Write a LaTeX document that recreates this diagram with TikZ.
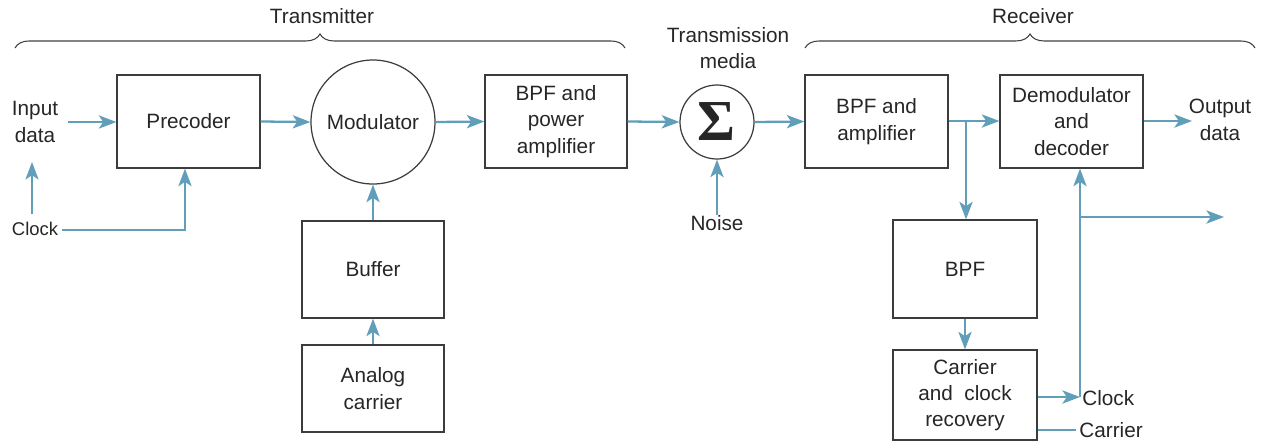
\documentclass[tikz,border=0pt]{standalone}
\usepackage{fontspec}
\setmainfont{Liberation Sans}
\newfontfamily\sigfont{Liberation Serif}
\usetikzlibrary{arrows.meta,decorations.pathreplacing}
\definecolor{lblue}{RGB}{96,158,186}
\definecolor{boxgray}{RGB}{60,60,60}
\begin{document}
\begin{tikzpicture}[x=0.02cm,y=-0.02cm,
  every node/.style={font=\fontsize{11.8}{15}\selectfont, text=black!85, align=center, inner sep=0pt},
  blk/.style={draw=boxgray, line width=0.7pt, minimum width=#1},
  arr/.style={draw=lblue, line width=1.3pt, -{Stealth[length=10pt,width=7.5pt,inset=2.5pt]}},
  tarr/.style={draw=lblue, line width=0.9pt, -{Stealth[length=10pt,width=7.5pt,inset=2.5pt]}},
  ln/.style={draw=lblue, line width=1.3pt},
  brc/.style={draw=black!75, line width=0.6pt, decorate, decoration={brace, amplitude=8pt}}]
\useasboundingbox (0,0) rectangle (1278,444);
% braces
\coordinate (tb1) at (15,48); \coordinate (tb2) at (625,48);
\coordinate (rb1) at (805,48); \coordinate (rb2) at (1255,48);
\draw[brc] (tb1) -- (tb2);
\draw[brc] (rb1) -- (rb2);
\node (ttx) at (322,16) {Transmitter};
\node (trx) at (1033,16) {Receiver};
% transmitter
\node (ind) at (35,122) {Input\\data};
\node[blk, minimum width=143*0.02cm, minimum height=93*0.02cm] (pre) at (188.5,121.5) {Precoder};
\node[font=\fontsize{10.5}{13}\selectfont] (clk) at (35,229) {Clock};
\node[draw=boxgray, line width=0.7pt, circle, minimum size=124*0.02cm] (mod) at (373,122) {Modulator};
\node[blk, minimum width=142*0.02cm, minimum height=97*0.02cm] (buf) at (373,269.5) {Buffer};
\node[blk, minimum width=142*0.02cm, minimum height=87*0.02cm] (anc) at (373,388.5) {Analog\\carrier};
\node[blk, minimum width=142*0.02cm, minimum height=93*0.02cm] (bpa) at (556,121.5) {BPF and\\power\\amplifier};
% media
\node[draw=boxgray, line width=0.7pt, circle, minimum size=74*0.02cm] (sig) at (717,122) {};
\node[font=\fontsize{33}{33}\sigfont\bfseries] (sigt) at (716,122) {Σ};
\node (tm) at (728,48) {Transmission\\media};
\node (noi) at (717,223) {Noise};
% receiver
\node[blk, minimum width=143*0.02cm, minimum height=93*0.02cm] (bam) at (876.5,121.5) {BPF and\\amplifier};
\node[blk, minimum width=143*0.02cm, minimum height=93*0.02cm] (dem) at (1071.5,121.5) {Demodulator\\and\\decoder};
\node (out) at (1220,120) {Output\\data};
\node[blk, minimum width=144*0.02cm, minimum height=98*0.02cm] (bpf) at (965,269) {BPF};
\node[blk, minimum width=144*0.02cm, minimum height=90*0.02cm] (ccr) at (965,395) {Carrier\\and~~clock\\recovery};
\node[anchor=west] (rclk) at (1082,398) {Clock};
\node[anchor=west] (rcar) at (1079,430) {Carrier};
% coordinates
\coordinate (inA) at (68,122);
\coordinate (ckU) at (32,214);
\coordinate (ckD) at (32,162);
\coordinate (ckR) at (62,230);
\coordinate (ckC) at (185,230);
\coordinate (brn) at (966,121);
\coordinate (cj) at (1080,397);
\coordinate (cb) at (1080,217);
\coordinate (ce) at (1224,217);
\coordinate (oe) at (1192,121);
\coordinate (carE) at (1076,430);
% arrows
\draw[tarr] (inA) -- (pre.west |- inA);
\draw[tarr] (ckU) -- (ckD);
\draw[arr] (ckR) -- (ckC) -- (pre.south -| ckC);
\draw[arr] (pre.east) -- (mod.west);
\draw[arr] (anc.north) -- (buf.south);
\draw[arr] (buf.north) -- (mod.south);
\draw[arr] (mod.east) -- (bpa.west);
\draw[arr] (bpa.east) -- (sig.west);
\draw[arr] (noi.north) -- (sig.south);
\draw[arr] (sig.east) -- (bam.west);
\draw[arr] (bam.east |- brn) -- (dem.west |- brn);
\draw[arr] (brn) -- (bpf.north -| brn);
\draw[arr] (dem.east |- oe) -- (oe);
\draw[arr] (bpf.south) -- (ccr.north);
\draw[arr] (ccr.east |- cj) -- (cj);
\draw[arr] (cj) -- (dem.south -| cj);
\draw[arr] (cb) -- (ce);
\draw[ln] (ccr.east |- carE) -- (carE);
\end{tikzpicture}
\end{document}
